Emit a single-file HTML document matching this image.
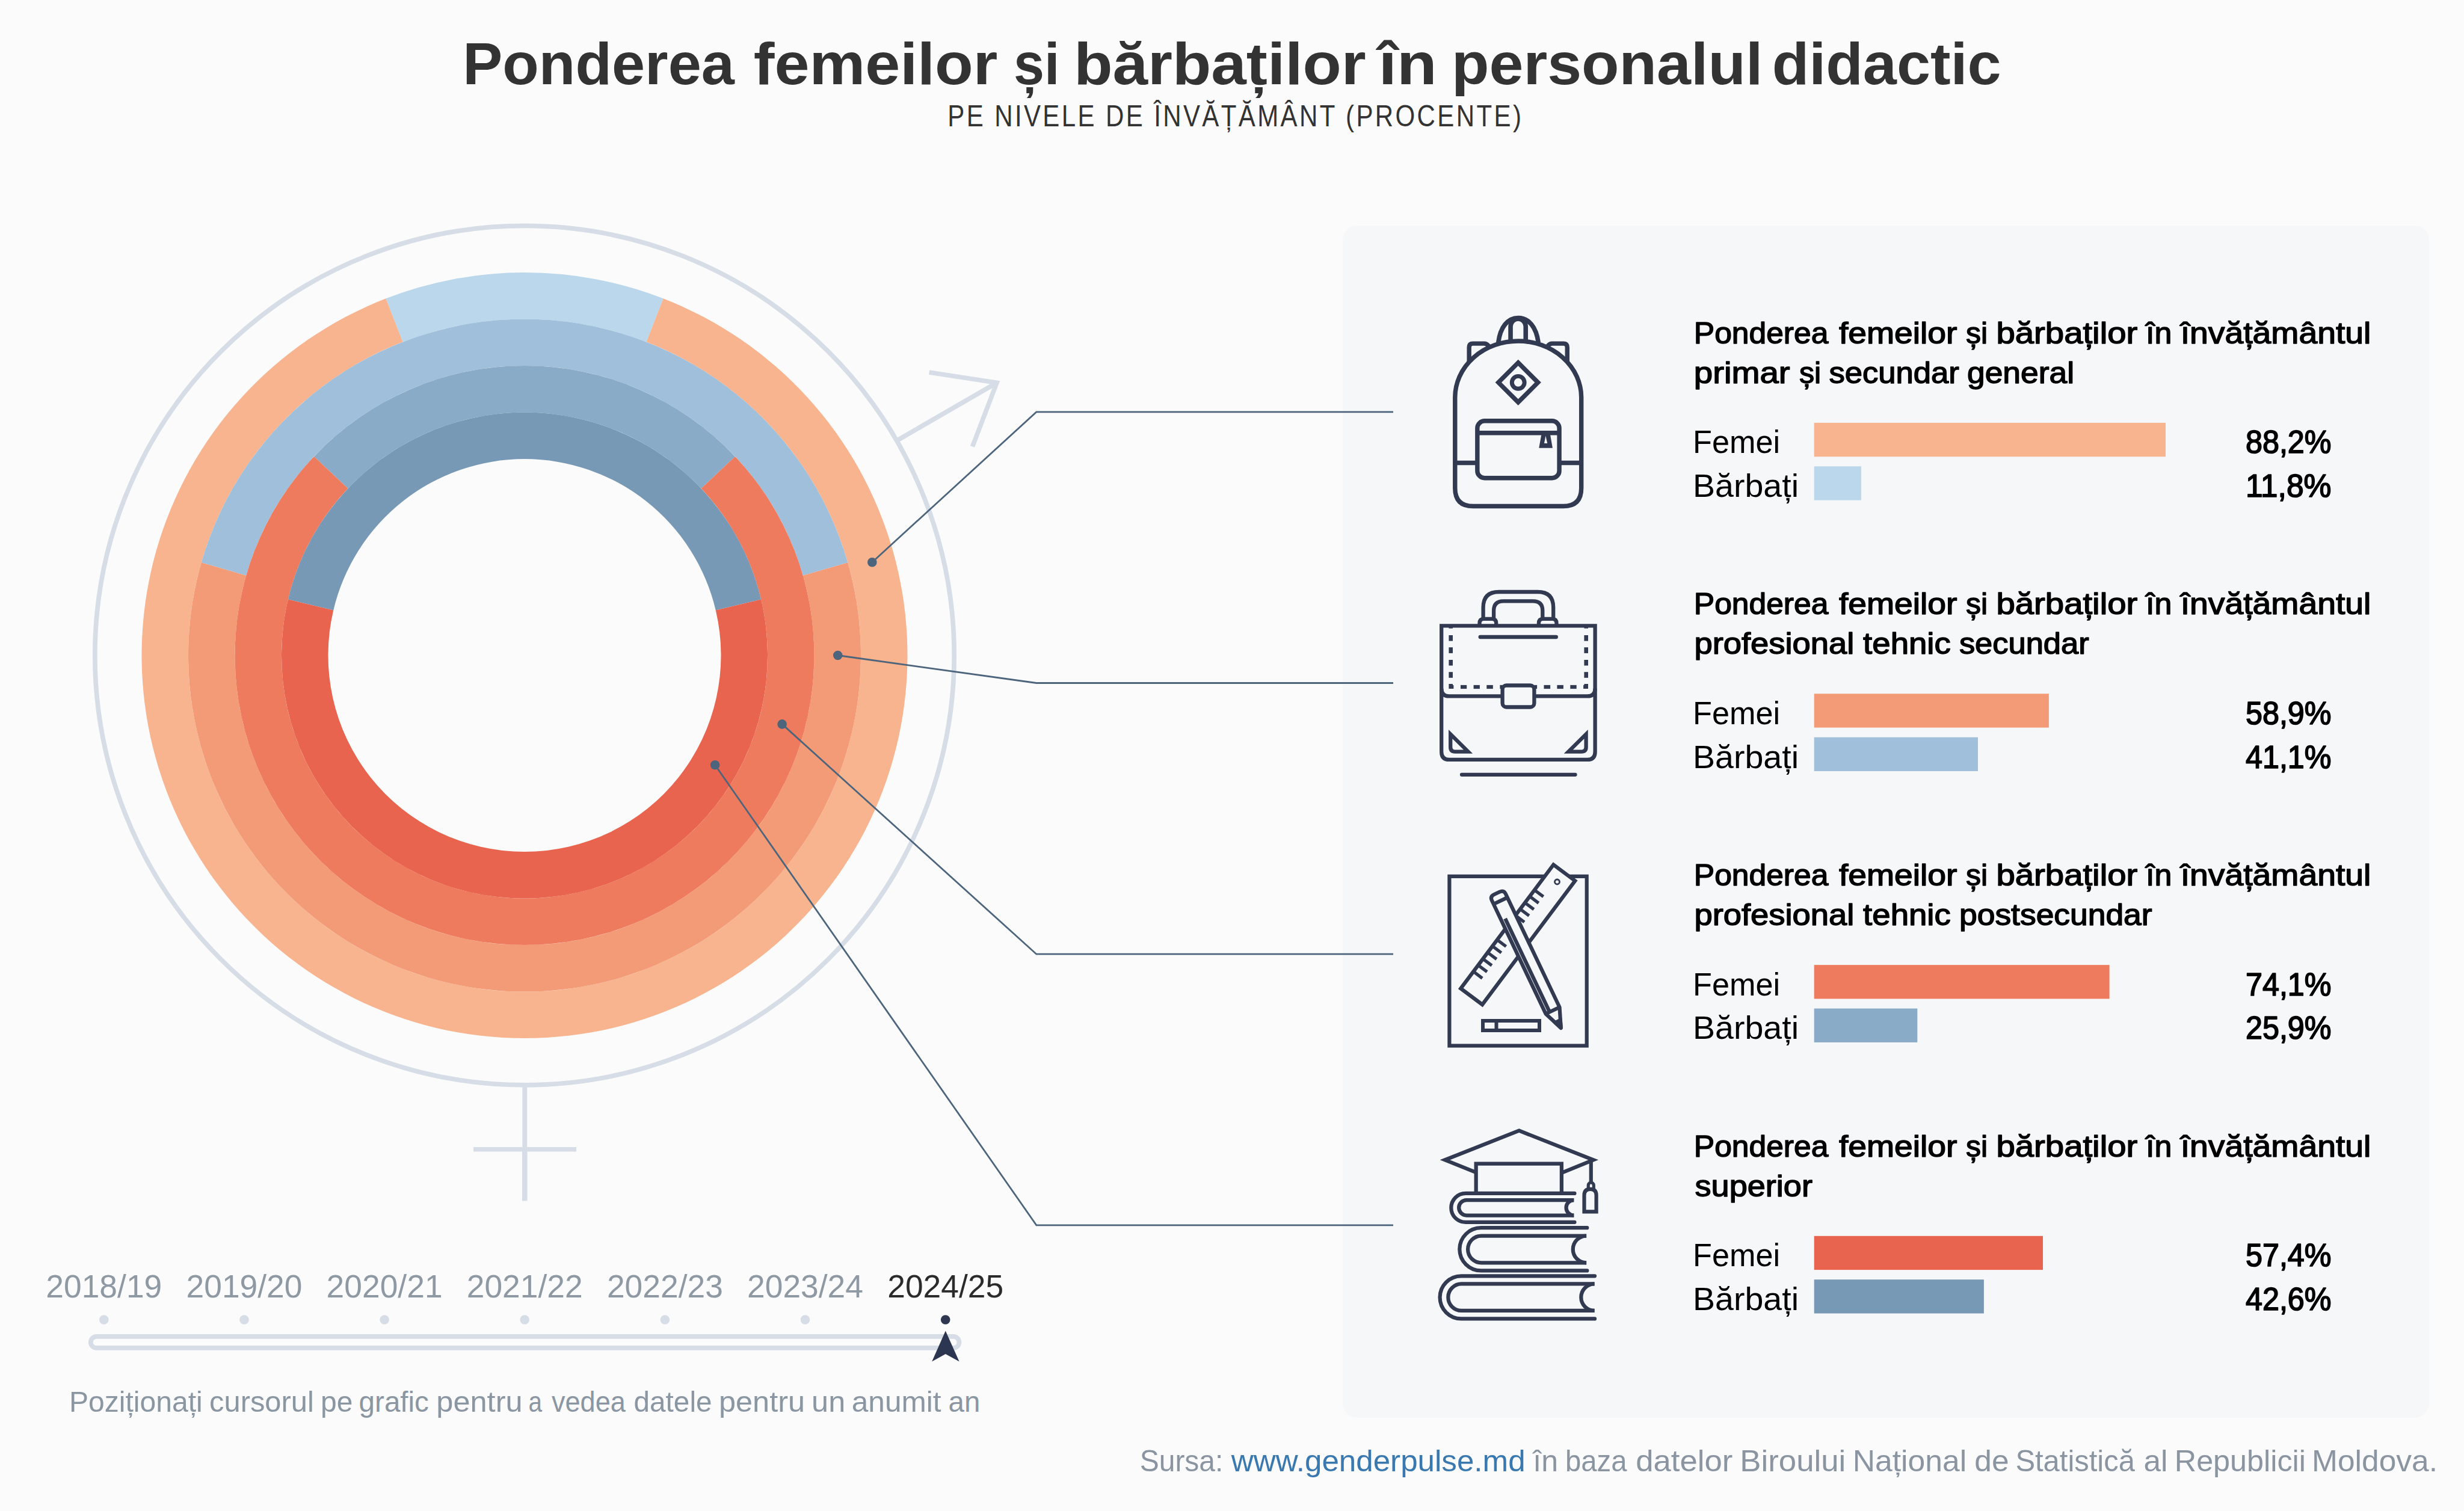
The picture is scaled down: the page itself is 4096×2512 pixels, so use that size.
<!DOCTYPE html>
<html><head><meta charset="utf-8"><style>
html,body{margin:0;padding:0;background:#fbfbfb;width:4096px;height:2512px;overflow:hidden;}
svg{display:block;font-family:"Liberation Sans",sans-serif;}
</style></head><body>
<svg width="4096" height="2512" viewBox="0 0 4096 2512" font-family="Liberation Sans, sans-serif">
<rect width="4096" height="2512" fill="#fbfbfb"/>
<rect x="2232" y="375" width="1806" height="1982" rx="24" fill="#f6f7f9"/>
<g stroke="#d6dde6" fill="none" stroke-width="7.7">
<circle cx="872.0" cy="1089.6" r="714.2"/>
<path d="M1493.7 730.8 L1657 636.3" />
<path d="M1544.6 619 L1657 636.3 L1616.5 742.5" stroke-linejoin="miter"/>
<path d="M872.3 1803 V1910.8" />
<path d="M872.3 1910.8 V1996.5" stroke-width="8.6"/>
<path d="M787.1 1910.8 H958" stroke-width="7.5"/>
</g>
<path d="M641.41 496.34 A636.50 636.50 0 0 1 1102.59 496.34 L1074.51 568.57 A559.00 559.00 0 0 0 669.49 568.57 Z" fill="#bad7ec"/>
<path d="M1102.59 496.34 A636.50 636.50 0 1 1 641.41 496.34 L669.49 568.57 A559.00 559.00 0 1 0 1074.51 568.57 Z" fill="#f8b48f"/>
<path d="M334.71 935.33 A559.00 559.00 0 0 1 1409.29 935.33 L1334.80 956.72 A481.50 481.50 0 0 0 409.20 956.72 Z" fill="#9fbfdb"/>
<path d="M1409.29 935.33 A559.00 559.00 0 1 1 334.71 935.33 L409.20 956.72 A481.50 481.50 0 1 0 1334.80 956.72 Z" fill="#f39b77"/>
<path d="M522.04 758.89 A481.50 481.50 0 0 1 1221.96 758.89 L1165.63 812.12 A404.00 404.00 0 0 0 578.37 812.12 Z" fill="#89abc8"/>
<path d="M1221.96 758.89 A481.50 481.50 0 1 1 522.04 758.89 L578.37 812.12 A404.00 404.00 0 1 0 1165.63 812.12 Z" fill="#ee7b5d"/>
<path d="M478.87 996.52 A404.00 404.00 0 0 1 1265.13 996.52 L1189.72 1014.38 A326.50 326.50 0 0 0 554.28 1014.38 Z" fill="#7799b5"/>
<path d="M1265.13 996.52 A404.00 404.00 0 1 1 478.87 996.52 L554.28 1014.38 A326.50 326.50 0 1 0 1189.72 1014.38 Z" fill="#e8644e"/>
<g stroke="#4d657c" stroke-width="2.8" fill="none">
<path d="M1449.8 934.7 L1722.8 684.9 H2316"/>
<path d="M1392.7 1089.5 L1722.8 1135.5 H2316"/>
<path d="M1300.1 1203.9 L1722.8 1586.2 H2316"/>
<path d="M1188.6 1271.7 L1722.8 2036.8 H2316"/>
</g>
<circle cx="1449.8" cy="934.7" r="7.8" fill="#4d657c"/>
<circle cx="1392.7" cy="1089.5" r="7.8" fill="#4d657c"/>
<circle cx="1300.1" cy="1203.9" r="7.8" fill="#4d657c"/>
<circle cx="1188.6" cy="1271.7" r="7.8" fill="#4d657c"/>
<text x="769.2" y="139.7" font-size="99" fill="#333333" font-weight="bold" text-anchor="start" textLength="451.7" lengthAdjust="spacingAndGlyphs">Ponderea</text>
<text x="1252.7" y="139.7" font-size="99" fill="#333333" font-weight="bold" text-anchor="start" textLength="405.7" lengthAdjust="spacingAndGlyphs">femeilor</text>
<text x="1685.1" y="139.7" font-size="99" fill="#333333" font-weight="bold" text-anchor="start" textLength="76.5" lengthAdjust="spacingAndGlyphs">și</text>
<text x="1785.2" y="139.7" font-size="99" fill="#333333" font-weight="bold" text-anchor="start" textLength="485.5" lengthAdjust="spacingAndGlyphs">bărbaților</text>
<text x="2291.6" y="139.7" font-size="99" fill="#333333" font-weight="bold" text-anchor="start" textLength="97.1" lengthAdjust="spacingAndGlyphs">în</text>
<text x="2413.0" y="139.7" font-size="99" fill="#333333" font-weight="bold" text-anchor="start" textLength="517.3" lengthAdjust="spacingAndGlyphs">personalul</text>
<text x="2945.7" y="139.7" font-size="99" fill="#333333" font-weight="bold" text-anchor="start" textLength="381.0" lengthAdjust="spacingAndGlyphs">didactic</text>
<text x="1575.3" y="210.0" font-size="49.5" fill="#333333" font-weight="normal" text-anchor="start" textLength="957.0" lengthAdjust="spacingAndGlyphs" letter-spacing="4">PE NIVELE DE ÎNVĂȚĂMÂNT (PROCENTE)</text>
<text x="2815.8" y="570.7" font-size="49.5" fill="#000000" font-weight="normal" text-anchor="start" textLength="223.5" lengthAdjust="spacingAndGlyphs" stroke="#000000" stroke-width="1.50" stroke-linejoin="round">Ponderea</text>
<text x="3056.9" y="570.7" font-size="49.5" fill="#000000" font-weight="normal" text-anchor="start" textLength="196.6" lengthAdjust="spacingAndGlyphs" stroke="#000000" stroke-width="1.50" stroke-linejoin="round">femeilor</text>
<text x="3268.1" y="570.7" font-size="49.5" fill="#000000" font-weight="normal" text-anchor="start" textLength="36.1" lengthAdjust="spacingAndGlyphs" stroke="#000000" stroke-width="1.50" stroke-linejoin="round">și</text>
<text x="3318.5" y="570.7" font-size="49.5" fill="#000000" font-weight="normal" text-anchor="start" textLength="234.7" lengthAdjust="spacingAndGlyphs" stroke="#000000" stroke-width="1.50" stroke-linejoin="round">bărbaților</text>
<text x="3567.1" y="570.7" font-size="49.5" fill="#000000" font-weight="normal" text-anchor="start" textLength="43.3" lengthAdjust="spacingAndGlyphs" stroke="#000000" stroke-width="1.50" stroke-linejoin="round">în</text>
<text x="3624.7" y="570.7" font-size="49.5" fill="#000000" font-weight="normal" text-anchor="start" textLength="316.7" lengthAdjust="spacingAndGlyphs" stroke="#000000" stroke-width="1.50" stroke-linejoin="round">învățământul</text>
<text x="2815.8" y="637.0" font-size="49.5" fill="#000000" font-weight="normal" text-anchor="start" textLength="159.7" lengthAdjust="spacingAndGlyphs" stroke="#000000" stroke-width="1.50" stroke-linejoin="round">primar</text>
<text x="2990.9" y="637.0" font-size="49.5" fill="#000000" font-weight="normal" text-anchor="start" textLength="36.2" lengthAdjust="spacingAndGlyphs" stroke="#000000" stroke-width="1.50" stroke-linejoin="round">și</text>
<text x="3040.5" y="637.0" font-size="49.5" fill="#000000" font-weight="normal" text-anchor="start" textLength="216.4" lengthAdjust="spacingAndGlyphs" stroke="#000000" stroke-width="1.50" stroke-linejoin="round">secundar</text>
<text x="3270.0" y="637.0" font-size="49.5" fill="#000000" font-weight="normal" text-anchor="start" textLength="178.0" lengthAdjust="spacingAndGlyphs" stroke="#000000" stroke-width="1.50" stroke-linejoin="round">general</text>
<text x="2814.0" y="753.4" font-size="53.5" fill="#000000" font-weight="normal" text-anchor="start" textLength="145.0" lengthAdjust="spacingAndGlyphs">Femei</text>
<text x="2814.0" y="826.1" font-size="53.5" fill="#000000" font-weight="normal" text-anchor="start" textLength="176.0" lengthAdjust="spacingAndGlyphs">Bărbați</text>
<rect x="3015.7" y="702.9" width="584.3" height="56.3" fill="#f8b48f"/>
<rect x="3015.7" y="775.3" width="78.2" height="56.3" fill="#bad7ec"/>
<text x="3733.0" y="753.4" font-size="53.2" fill="#000000" font-weight="normal" text-anchor="start" textLength="142.5" lengthAdjust="spacingAndGlyphs" stroke="#000" stroke-width="1.7" stroke-linejoin="round">88,2%</text>
<text x="3733.0" y="826.1" font-size="53.2" fill="#000000" font-weight="normal" text-anchor="start" textLength="142.5" lengthAdjust="spacingAndGlyphs" stroke="#000" stroke-width="1.7" stroke-linejoin="round">11,8%</text>
<text x="2815.8" y="1021.1" font-size="49.5" fill="#000000" font-weight="normal" text-anchor="start" textLength="223.5" lengthAdjust="spacingAndGlyphs" stroke="#000000" stroke-width="1.50" stroke-linejoin="round">Ponderea</text>
<text x="3056.9" y="1021.1" font-size="49.5" fill="#000000" font-weight="normal" text-anchor="start" textLength="196.6" lengthAdjust="spacingAndGlyphs" stroke="#000000" stroke-width="1.50" stroke-linejoin="round">femeilor</text>
<text x="3268.1" y="1021.1" font-size="49.5" fill="#000000" font-weight="normal" text-anchor="start" textLength="36.1" lengthAdjust="spacingAndGlyphs" stroke="#000000" stroke-width="1.50" stroke-linejoin="round">și</text>
<text x="3318.5" y="1021.1" font-size="49.5" fill="#000000" font-weight="normal" text-anchor="start" textLength="234.7" lengthAdjust="spacingAndGlyphs" stroke="#000000" stroke-width="1.50" stroke-linejoin="round">bărbaților</text>
<text x="3567.1" y="1021.1" font-size="49.5" fill="#000000" font-weight="normal" text-anchor="start" textLength="43.3" lengthAdjust="spacingAndGlyphs" stroke="#000000" stroke-width="1.50" stroke-linejoin="round">în</text>
<text x="3624.7" y="1021.1" font-size="49.5" fill="#000000" font-weight="normal" text-anchor="start" textLength="316.7" lengthAdjust="spacingAndGlyphs" stroke="#000000" stroke-width="1.50" stroke-linejoin="round">învățământul</text>
<text x="2816.4" y="1087.4" font-size="49.5" fill="#000000" font-weight="normal" text-anchor="start" textLength="266.0" lengthAdjust="spacingAndGlyphs" stroke="#000000" stroke-width="1.50" stroke-linejoin="round">profesional</text>
<text x="3097.1" y="1087.4" font-size="49.5" fill="#000000" font-weight="normal" text-anchor="start" textLength="145.7" lengthAdjust="spacingAndGlyphs" stroke="#000000" stroke-width="1.50" stroke-linejoin="round">tehnic</text>
<text x="3256.9" y="1087.4" font-size="49.5" fill="#000000" font-weight="normal" text-anchor="start" textLength="215.8" lengthAdjust="spacingAndGlyphs" stroke="#000000" stroke-width="1.50" stroke-linejoin="round">secundar</text>
<text x="2814.0" y="1203.8" font-size="53.5" fill="#000000" font-weight="normal" text-anchor="start" textLength="145.0" lengthAdjust="spacingAndGlyphs">Femei</text>
<text x="2814.0" y="1276.5" font-size="53.5" fill="#000000" font-weight="normal" text-anchor="start" textLength="176.0" lengthAdjust="spacingAndGlyphs">Bărbați</text>
<rect x="3015.7" y="1153.3" width="390.2" height="56.3" fill="#f39b77"/>
<rect x="3015.7" y="1225.7" width="272.3" height="56.3" fill="#9fbfdb"/>
<text x="3733.0" y="1203.8" font-size="53.2" fill="#000000" font-weight="normal" text-anchor="start" textLength="142.5" lengthAdjust="spacingAndGlyphs" stroke="#000" stroke-width="1.7" stroke-linejoin="round">58,9%</text>
<text x="3733.0" y="1276.5" font-size="53.2" fill="#000000" font-weight="normal" text-anchor="start" textLength="142.5" lengthAdjust="spacingAndGlyphs" stroke="#000" stroke-width="1.7" stroke-linejoin="round">41,1%</text>
<text x="2815.8" y="1472.0" font-size="49.5" fill="#000000" font-weight="normal" text-anchor="start" textLength="223.5" lengthAdjust="spacingAndGlyphs" stroke="#000000" stroke-width="1.50" stroke-linejoin="round">Ponderea</text>
<text x="3056.9" y="1472.0" font-size="49.5" fill="#000000" font-weight="normal" text-anchor="start" textLength="196.6" lengthAdjust="spacingAndGlyphs" stroke="#000000" stroke-width="1.50" stroke-linejoin="round">femeilor</text>
<text x="3268.1" y="1472.0" font-size="49.5" fill="#000000" font-weight="normal" text-anchor="start" textLength="36.1" lengthAdjust="spacingAndGlyphs" stroke="#000000" stroke-width="1.50" stroke-linejoin="round">și</text>
<text x="3318.5" y="1472.0" font-size="49.5" fill="#000000" font-weight="normal" text-anchor="start" textLength="234.7" lengthAdjust="spacingAndGlyphs" stroke="#000000" stroke-width="1.50" stroke-linejoin="round">bărbaților</text>
<text x="3567.1" y="1472.0" font-size="49.5" fill="#000000" font-weight="normal" text-anchor="start" textLength="43.3" lengthAdjust="spacingAndGlyphs" stroke="#000000" stroke-width="1.50" stroke-linejoin="round">în</text>
<text x="3624.7" y="1472.0" font-size="49.5" fill="#000000" font-weight="normal" text-anchor="start" textLength="316.7" lengthAdjust="spacingAndGlyphs" stroke="#000000" stroke-width="1.50" stroke-linejoin="round">învățământul</text>
<text x="2816.4" y="1538.3" font-size="49.5" fill="#000000" font-weight="normal" text-anchor="start" textLength="266.0" lengthAdjust="spacingAndGlyphs" stroke="#000000" stroke-width="1.50" stroke-linejoin="round">profesional</text>
<text x="3097.1" y="1538.3" font-size="49.5" fill="#000000" font-weight="normal" text-anchor="start" textLength="145.7" lengthAdjust="spacingAndGlyphs" stroke="#000000" stroke-width="1.50" stroke-linejoin="round">tehnic</text>
<text x="3257.0" y="1538.3" font-size="49.5" fill="#000000" font-weight="normal" text-anchor="start" textLength="320.6" lengthAdjust="spacingAndGlyphs" stroke="#000000" stroke-width="1.50" stroke-linejoin="round">postsecundar</text>
<text x="2814.0" y="1654.7" font-size="53.5" fill="#000000" font-weight="normal" text-anchor="start" textLength="145.0" lengthAdjust="spacingAndGlyphs">Femei</text>
<text x="2814.0" y="1727.4" font-size="53.5" fill="#000000" font-weight="normal" text-anchor="start" textLength="176.0" lengthAdjust="spacingAndGlyphs">Bărbați</text>
<rect x="3015.7" y="1604.2" width="490.9" height="56.3" fill="#ee7b5d"/>
<rect x="3015.7" y="1676.6" width="171.6" height="56.3" fill="#89abc8"/>
<text x="3733.0" y="1654.7" font-size="53.2" fill="#000000" font-weight="normal" text-anchor="start" textLength="142.5" lengthAdjust="spacingAndGlyphs" stroke="#000" stroke-width="1.7" stroke-linejoin="round">74,1%</text>
<text x="3733.0" y="1727.4" font-size="53.2" fill="#000000" font-weight="normal" text-anchor="start" textLength="142.5" lengthAdjust="spacingAndGlyphs" stroke="#000" stroke-width="1.7" stroke-linejoin="round">25,9%</text>
<text x="2815.8" y="1922.6" font-size="49.5" fill="#000000" font-weight="normal" text-anchor="start" textLength="223.5" lengthAdjust="spacingAndGlyphs" stroke="#000000" stroke-width="1.50" stroke-linejoin="round">Ponderea</text>
<text x="3056.9" y="1922.6" font-size="49.5" fill="#000000" font-weight="normal" text-anchor="start" textLength="196.6" lengthAdjust="spacingAndGlyphs" stroke="#000000" stroke-width="1.50" stroke-linejoin="round">femeilor</text>
<text x="3268.1" y="1922.6" font-size="49.5" fill="#000000" font-weight="normal" text-anchor="start" textLength="36.1" lengthAdjust="spacingAndGlyphs" stroke="#000000" stroke-width="1.50" stroke-linejoin="round">și</text>
<text x="3318.5" y="1922.6" font-size="49.5" fill="#000000" font-weight="normal" text-anchor="start" textLength="234.7" lengthAdjust="spacingAndGlyphs" stroke="#000000" stroke-width="1.50" stroke-linejoin="round">bărbaților</text>
<text x="3567.1" y="1922.6" font-size="49.5" fill="#000000" font-weight="normal" text-anchor="start" textLength="43.3" lengthAdjust="spacingAndGlyphs" stroke="#000000" stroke-width="1.50" stroke-linejoin="round">în</text>
<text x="3624.7" y="1922.6" font-size="49.5" fill="#000000" font-weight="normal" text-anchor="start" textLength="316.7" lengthAdjust="spacingAndGlyphs" stroke="#000000" stroke-width="1.50" stroke-linejoin="round">învățământul</text>
<text x="2817.6" y="1988.9" font-size="49.5" fill="#000000" font-weight="normal" text-anchor="start" textLength="195.3" lengthAdjust="spacingAndGlyphs" stroke="#000000" stroke-width="1.50" stroke-linejoin="round">superior</text>
<text x="2814.0" y="2105.3" font-size="53.5" fill="#000000" font-weight="normal" text-anchor="start" textLength="145.0" lengthAdjust="spacingAndGlyphs">Femei</text>
<text x="2814.0" y="2178.0" font-size="53.5" fill="#000000" font-weight="normal" text-anchor="start" textLength="176.0" lengthAdjust="spacingAndGlyphs">Bărbați</text>
<rect x="3015.7" y="2054.8" width="380.3" height="56.3" fill="#e8644e"/>
<rect x="3015.7" y="2127.2" width="282.2" height="56.3" fill="#7799b5"/>
<text x="3733.0" y="2105.3" font-size="53.2" fill="#000000" font-weight="normal" text-anchor="start" textLength="142.5" lengthAdjust="spacingAndGlyphs" stroke="#000" stroke-width="1.7" stroke-linejoin="round">57,4%</text>
<text x="3733.0" y="2178.0" font-size="53.2" fill="#000000" font-weight="normal" text-anchor="start" textLength="142.5" lengthAdjust="spacingAndGlyphs" stroke="#000" stroke-width="1.7" stroke-linejoin="round">42,6%</text>
<g transform="translate(2400.00 510.00) scale(0.231696)" fill="none" stroke="#323a52" stroke-width="32.0"><path d="M81 650 A453 404 0 0 1 987 650 V1301 Q987 1431 857 1431 H211 Q81 1431 81 1301 Z"/><path d="M81 1120 H241 M829 1120 H987"/><rect x="241" y="819" width="588" height="410" rx="52"/><path d="M241 905 H829"/><path d="M534 401 L676 543 L534 685 L392 543 Z"/><circle cx="534" cy="543" r="45" stroke-width="30"/><path d="M182 396 V291 Q182 264 209 264 H290 Q310 264 322 282"/><path d="M886 396 V291 Q886 264 859 264 H778 Q758 264 746 282"/></g>
<path fill-rule="evenodd" fill="#323a52" d="M2562.4 722 L2576.9 722 L2580.9 744.7 L2558.3 744.7 Z M2569.4 724.6 L2572.2 737.1 L2567 737.1 Z"/>
<g transform="translate(2440.00 515.00) scale(0.068994)" fill="none" stroke="#323a52" stroke-width="110.0"><path d="M735 790 C780 420 960 195 1215 195 C1470 195 1650 420 1700 790"/><path d="M1030 745 V400 A182 182 0 0 1 1395 400 V745"/></g>
<g fill="none" stroke="#323a52" stroke-width="6.3"><path d="M2396.2 1040.3 H2651.6 V1249.9 Q2651.6 1262.9 2638.6 1262.9 H2409.2 Q2396.2 1262.9 2396.2 1249.9 Z"/><path d="M2396.2 1144.4 Q2396.2 1157.4 2409.2 1157.4 H2497.6 M2550.4 1157.4 H2638.6 Q2651.6 1157.4 2651.6 1144.4"/><g fill="#323a52" stroke="none"><rect x="2408.4" y="1040.0" width="6.6" height="4.7"/><rect x="2633.4" y="1040.0" width="6.6" height="4.7"/><rect x="2408.4" y="1056.0" width="6.6" height="9.6"/><rect x="2633.4" y="1056.0" width="6.6" height="9.6"/><rect x="2408.4" y="1076.2" width="6.6" height="9.7"/><rect x="2633.4" y="1076.2" width="6.6" height="9.7"/><rect x="2408.4" y="1097.0" width="6.6" height="9.5"/><rect x="2633.4" y="1097.0" width="6.6" height="9.5"/><rect x="2408.4" y="1117.2" width="6.6" height="9.6"/><rect x="2633.4" y="1117.2" width="6.6" height="9.6"/><rect x="2428.0" y="1138.9" width="10.2" height="6.2"/><rect x="2449.6" y="1138.9" width="10.3" height="6.2"/><rect x="2471.3" y="1138.9" width="10.5" height="6.2"/><rect x="2493.4" y="1138.9" width="5.3" height="6.2"/><rect x="2550.4" y="1138.9" width="4.7" height="6.2"/><rect x="2566.5" y="1138.9" width="10.6" height="6.2"/><rect x="2588.4" y="1138.9" width="10.5" height="6.2"/><rect x="2610.3" y="1138.9" width="10.4" height="6.2"/><path d="M2408.4 1137.1 H2415 V1138.9 H2416.4 V1145.1 H2408.4 Z"/><path d="M2633.4 1137.1 H2640 V1145.1 H2632.1 V1138.9 H2633.4 Z"/></g><path d="M2460.7 1059 H2586.8" stroke-linecap="round"/><rect x="2497.6" y="1139.5" width="52.8" height="36" rx="6.5" fill="#f6f7f9"/><path d="M2465.6 1029 V1010 Q2465.6 984 2491.6 984 H2556.2 Q2582.2 984 2582.2 1010 V1029"/><path d="M2483.1 1029 V1015.3 Q2483.1 999.3 2499.1 999.3 H2548.3 Q2564.3 999.3 2564.3 1015.3 V1029"/><path d="M2459.5 1040 V1036 Q2459.5 1028.9 2466.6 1028.9 H2480.1 Q2487.2 1028.9 2487.2 1036 V1040"/><path d="M2557.9 1040 V1036 Q2557.9 1028.9 2565 1028.9 H2580.4 Q2587.5 1028.9 2587.5 1036 V1040"/><path d="M2430 1287.8 H2618.5" stroke-linecap="round"/><path d="M2411.2 1220.5 V1242 Q2411.2 1249.6 2418.8 1249.6 H2440.5 Z"/><path d="M2636.6 1220.5 V1242 Q2636.6 1249.6 2629 1249.6 H2607.3 Z"/></g>
<g fill="none" stroke="#323a52" stroke-width="6.2"><rect x="2409.4" y="1456.9" width="228.3" height="281.6"/><path fill="#f6f7f9" d="M2428.2 1643.3 L2582.4 1437.5 L2618.3 1464.3 L2464.1 1670.1 Z"/><path stroke-width="5.2" d="M2449.3 1615.2 L2464.1 1626.3 M2457.2 1604.6 L2472.0 1615.7 M2465.1 1594.1 L2479.9 1605.2 M2473.0 1583.5 L2487.8 1594.6 M2480.9 1572.9 L2495.7 1584.0 M2488.8 1562.4 L2503.6 1573.5 M2519.2 1521.9 L2534.0 1533.0 M2527.1 1511.3 L2541.9 1522.4 M2535.0 1500.8 L2549.8 1511.8 M2542.9 1490.2 L2557.7 1501.3 M2550.8 1479.6 L2565.6 1490.7"/><circle cx="2588.5" cy="1466" r="4" stroke-width="2.8"/></g>
<g transform="translate(2494.3 1497.55) rotate(64.57)" fill="none" stroke="#323a52" stroke-width="6.2"><path fill="#f6f7f9" stroke-linejoin="round" d="M0 12.7 L202 12.7 L234 0 L202 -12.7 L0 -12.7 L-7 -12.7 Q-14 -12.7 -14 -5 L-14 5 Q-14 12.7 -7 12.7 Z"/><path d="M0 12.7 V-12.7 M202 12.7 V-12.7 M30 5.6 H202"/><path fill="#323a52" d="M222 4.5 L234 0 L222 -4.5 Z" stroke-linejoin="round"/></g>
<g fill="none" stroke="#323a52"><path d="M2465 1697 H2559 V1712.9 H2465 Z M2487.5 1697 V1712.9" stroke-width="6"/></g>
<g transform="translate(2380.00 1860.00) scale(0.231642)" fill="none" stroke="#323a52" stroke-width="27.0"><path d="M318 385 L95 295 L627 85 L1160 295 L940 385"/><path d="M318 535 V322 H932 V535"/><path stroke-linecap="round" d="M1025 535 H243 A103.5 103.5 0 0 0 243 742 H1025"/><path d="M1020 583 H250 A55.0 55.0 0 0 0 250 693 H1020"/><path d="M1020 583 A55.0 55.0 0 0 0 1020 693"/><path stroke-linecap="round" d="M1115 782 H354 A154.0 154.0 0 0 0 354 1090 H1115"/><path d="M1110 840 H356 A96.5 96.5 0 0 0 356 1033 H1110"/><path d="M1110 840 A96.5 96.5 0 0 0 1110 1033"/><path stroke-linecap="round" d="M1170 1128 H212 A153.5 153.5 0 0 0 212 1435 H1170"/><path d="M1168 1185 H214 A96.0 96.0 0 0 0 214 1377 H1168"/><path d="M1168 1185 A96.0 96.0 0 0 0 1168 1377"/></g>
<g fill="none" stroke="#323a52" stroke-width="6.2"><path d="M2644.8 1929 V1965"/><path d="M2640.3 1978 V1970.5 A4.5 4.5 0 0 1 2649.3 1970.5 V1978" stroke-width="5.2"/><path d="M2633.5 2014.4 V1987 Q2633.5 1976.8 2643.6 1976.8 Q2653.6 1976.8 2653.6 1987 V2014.4 Z"/></g>
<text x="172.8" y="2157.0" font-size="53.9" fill="#8e99a4" font-weight="normal" text-anchor="middle" textLength="193.0" lengthAdjust="spacingAndGlyphs">2018/19</text>
<circle cx="172.8" cy="2194" r="7.8" fill="#d6dde6"/>
<text x="406.0" y="2157.0" font-size="53.9" fill="#8e99a4" font-weight="normal" text-anchor="middle" textLength="193.0" lengthAdjust="spacingAndGlyphs">2019/20</text>
<circle cx="406.0" cy="2194" r="7.8" fill="#d6dde6"/>
<text x="639.1" y="2157.0" font-size="53.9" fill="#8e99a4" font-weight="normal" text-anchor="middle" textLength="193.0" lengthAdjust="spacingAndGlyphs">2020/21</text>
<circle cx="639.1" cy="2194" r="7.8" fill="#d6dde6"/>
<text x="872.2" y="2157.0" font-size="53.9" fill="#8e99a4" font-weight="normal" text-anchor="middle" textLength="193.0" lengthAdjust="spacingAndGlyphs">2021/22</text>
<circle cx="872.2" cy="2194" r="7.8" fill="#d6dde6"/>
<text x="1105.4" y="2157.0" font-size="53.9" fill="#8e99a4" font-weight="normal" text-anchor="middle" textLength="193.0" lengthAdjust="spacingAndGlyphs">2022/23</text>
<circle cx="1105.4" cy="2194" r="7.8" fill="#d6dde6"/>
<text x="1338.5" y="2157.0" font-size="53.9" fill="#8e99a4" font-weight="normal" text-anchor="middle" textLength="193.0" lengthAdjust="spacingAndGlyphs">2023/24</text>
<circle cx="1338.5" cy="2194" r="7.8" fill="#d6dde6"/>
<text x="1571.7" y="2157.0" font-size="53.9" fill="#2b2b2b" font-weight="normal" text-anchor="middle" textLength="193.0" lengthAdjust="spacingAndGlyphs">2024/25</text>
<circle cx="1571.7" cy="2194" r="7.8" fill="#2e3650"/>
<rect x="150.8" y="2221.9" width="1443.6" height="19" rx="9.5" fill="none" stroke="#d6dde6" stroke-width="7.7"/>
<path d="M1571.8 2212.6 L1594.6 2263.4 L1571.8 2251 L1549.2 2263.4 Z" fill="#2d3650"/>
<text x="115.0" y="2347.0" font-size="48.4" fill="#8a96a2" font-weight="normal" text-anchor="start" textLength="221.8" lengthAdjust="spacingAndGlyphs">Poziționați</text>
<text x="348.1" y="2347.0" font-size="48.4" fill="#8a96a2" font-weight="normal" text-anchor="start" textLength="173.7" lengthAdjust="spacingAndGlyphs">cursorul</text>
<text x="533.1" y="2347.0" font-size="48.4" fill="#8a96a2" font-weight="normal" text-anchor="start" textLength="53.4" lengthAdjust="spacingAndGlyphs">pe</text>
<text x="596.6" y="2347.0" font-size="48.4" fill="#8a96a2" font-weight="normal" text-anchor="start" textLength="116.3" lengthAdjust="spacingAndGlyphs">grafic</text>
<text x="725.3" y="2347.0" font-size="48.4" fill="#8a96a2" font-weight="normal" text-anchor="start" textLength="143.3" lengthAdjust="spacingAndGlyphs">pentru</text>
<text x="878.6" y="2347.0" font-size="48.4" fill="#8a96a2" font-weight="normal" text-anchor="start" textLength="22.6" lengthAdjust="spacingAndGlyphs">a</text>
<text x="916.9" y="2347.0" font-size="48.4" fill="#8a96a2" font-weight="normal" text-anchor="start" textLength="123.0" lengthAdjust="spacingAndGlyphs">vedea</text>
<text x="1053.6" y="2347.0" font-size="48.4" fill="#8a96a2" font-weight="normal" text-anchor="start" textLength="129.9" lengthAdjust="spacingAndGlyphs">datele</text>
<text x="1195.0" y="2347.0" font-size="48.4" fill="#8a96a2" font-weight="normal" text-anchor="start" textLength="143.0" lengthAdjust="spacingAndGlyphs">pentru</text>
<text x="1349.1" y="2347.0" font-size="48.4" fill="#8a96a2" font-weight="normal" text-anchor="start" textLength="56.1" lengthAdjust="spacingAndGlyphs">un</text>
<text x="1415.8" y="2347.0" font-size="48.4" fill="#8a96a2" font-weight="normal" text-anchor="start" textLength="148.8" lengthAdjust="spacingAndGlyphs">anumit</text>
<text x="1576.6" y="2347.0" font-size="48.4" fill="#8a96a2" font-weight="normal" text-anchor="start" textLength="52.7" lengthAdjust="spacingAndGlyphs">an</text>
<text x="1894.7" y="2446.0" font-size="49.5" fill="#8a95a1" font-weight="normal" text-anchor="start" textLength="138.7" lengthAdjust="spacingAndGlyphs">Sursa:</text>
<text x="2046.8" y="2446.0" font-size="49.5" fill="#3a78b0" font-weight="normal" text-anchor="start" textLength="488.8" lengthAdjust="spacingAndGlyphs">www.genderpulse.md</text>
<text x="2548.3" y="2446.0" font-size="49.5" fill="#8a95a1" font-weight="normal" text-anchor="start" textLength="41.7" lengthAdjust="spacingAndGlyphs">în</text>
<text x="2601.9" y="2446.0" font-size="49.5" fill="#8a95a1" font-weight="normal" text-anchor="start" textLength="102.6" lengthAdjust="spacingAndGlyphs">baza</text>
<text x="2719.2" y="2446.0" font-size="49.5" fill="#8a95a1" font-weight="normal" text-anchor="start" textLength="161.1" lengthAdjust="spacingAndGlyphs">datelor</text>
<text x="2892.3" y="2446.0" font-size="49.5" fill="#8a95a1" font-weight="normal" text-anchor="start" textLength="176.0" lengthAdjust="spacingAndGlyphs">Biroului</text>
<text x="3079.8" y="2446.0" font-size="49.5" fill="#8a95a1" font-weight="normal" text-anchor="start" textLength="189.4" lengthAdjust="spacingAndGlyphs">Național</text>
<text x="3282.3" y="2446.0" font-size="49.5" fill="#8a95a1" font-weight="normal" text-anchor="start" textLength="57.2" lengthAdjust="spacingAndGlyphs">de</text>
<text x="3350.4" y="2446.0" font-size="49.5" fill="#8a95a1" font-weight="normal" text-anchor="start" textLength="198.5" lengthAdjust="spacingAndGlyphs">Statistică</text>
<text x="3563.5" y="2446.0" font-size="49.5" fill="#8a95a1" font-weight="normal" text-anchor="start" textLength="40.0" lengthAdjust="spacingAndGlyphs">al</text>
<text x="3614.8" y="2446.0" font-size="49.5" fill="#8a95a1" font-weight="normal" text-anchor="start" textLength="218.1" lengthAdjust="spacingAndGlyphs">Republicii</text>
<text x="3843.1" y="2446.0" font-size="49.5" fill="#8a95a1" font-weight="normal" text-anchor="start" textLength="208.9" lengthAdjust="spacingAndGlyphs">Moldova.</text>
</svg>
</body></html>
